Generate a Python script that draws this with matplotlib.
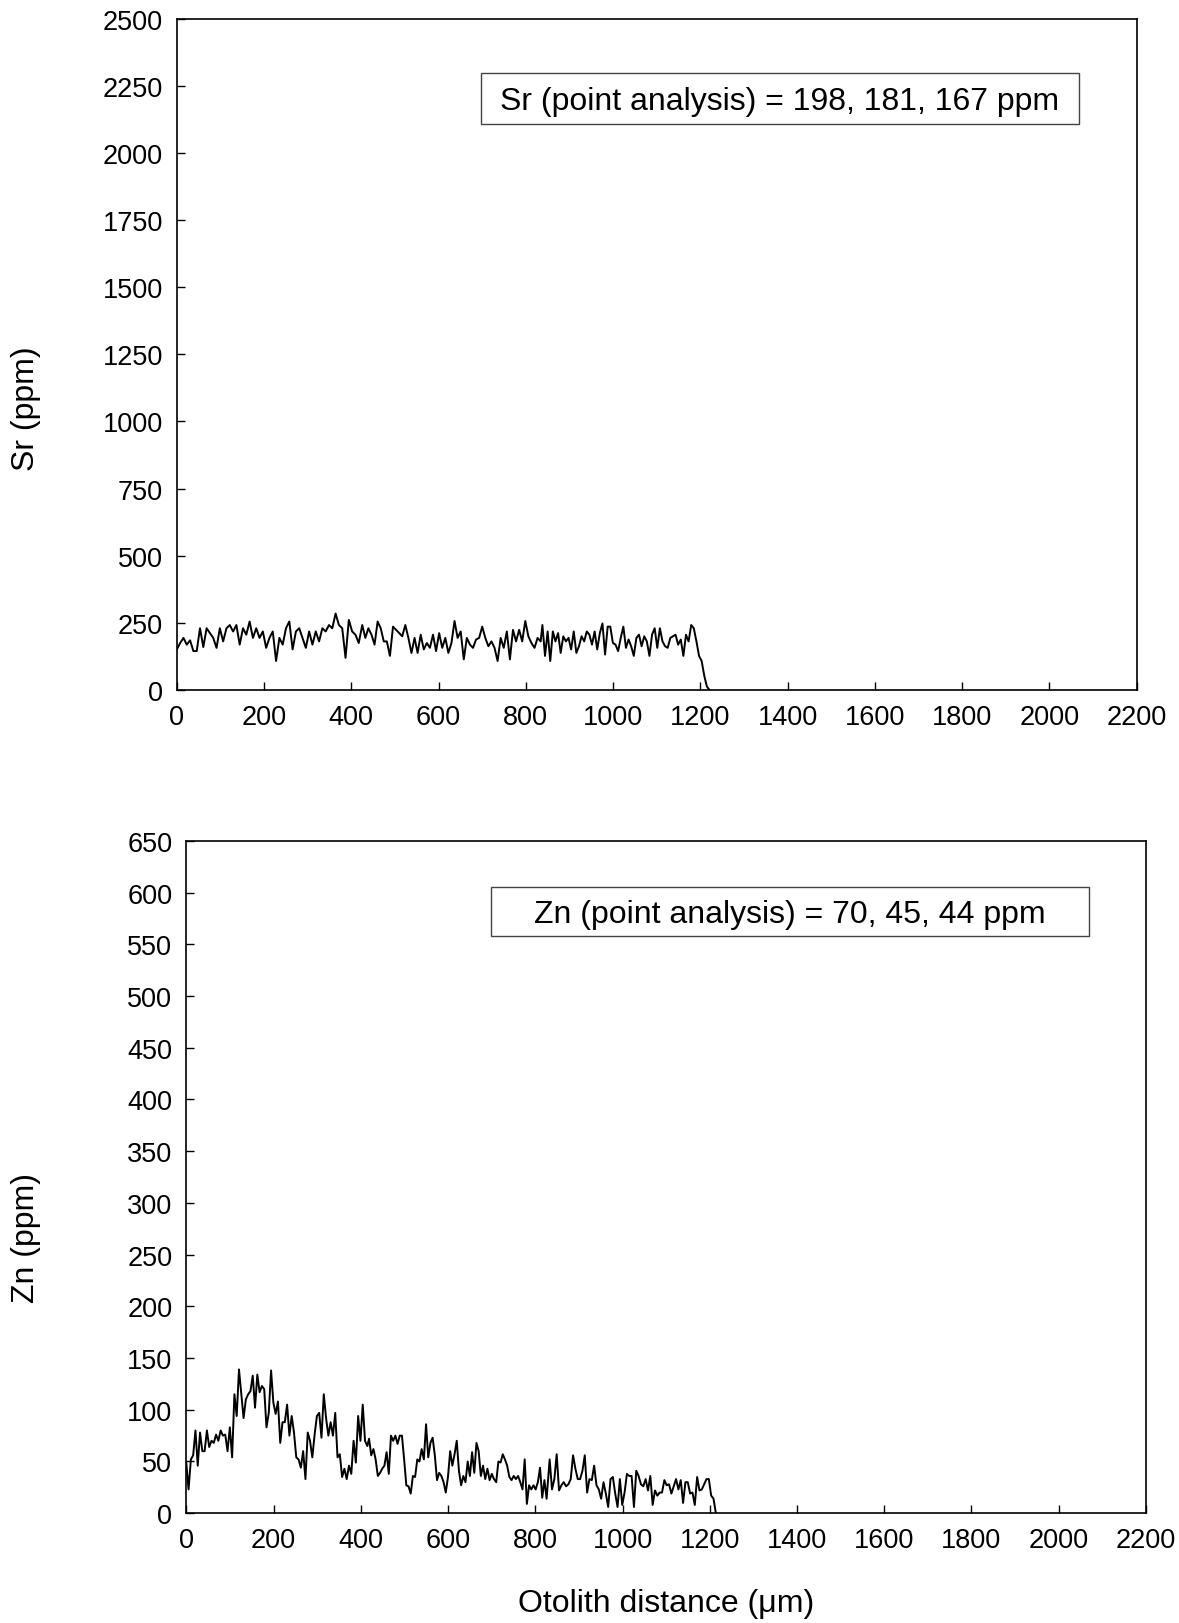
import numpy as np
import matplotlib
matplotlib.use("Agg")
import matplotlib.pyplot as plt
from matplotlib.patches import Rectangle

plt.rcParams['font.family'] = ['Liberation Sans', 'DejaVu Sans']

# Sr laser line scan (ppm) from left to right in three pieces
sr_a = [151, 175, 194, 169, 185, 145, 145, 230, 160, 230, 212, 194, 157, 230, 181, 230,
        242, 218, 242, 169, 230, 206, 255, 194, 230, 194, 218, 157, 194, 218, 108, 194,
        169, 230, 255, 151, 218, 230, 194, 157, 218, 169, 218, 181, 230, 218, 242, 230,
        285, 242, 230, 120, 261, 218, 206, 175]
sr_b = [242, 194, 230, 206, 169, 255, 230, 181, 181, 127, 236, 224, 212, 200, 242, 194,
        138, 194, 138, 206, 151, 175, 157, 206, 145, 212, 157, 194, 138, 175, 257, 194,
        218, 114, 194, 169, 157, 188, 194, 236, 194, 163, 181, 157, 108, 194, 157, 218,
        114, 224, 181, 224, 181, 257, 200, 175, 157, 194, 181]
sr_c = [242, 127, 218, 108, 218, 181, 212, 138, 200, 181, 194, 151, 218, 138, 163, 200,
        181, 218, 206, 169, 218, 151, 212, 248, 132, 236, 236, 175, 169, 145, 194, 236,
        157, 188, 163, 127, 194, 206, 163, 200, 181, 127, 206, 230, 157, 230, 181, 163,
        157, 194, 200, 206, 169, 188, 127, 206, 181, 242, 230, 181, 127, 108, 53, 13, 0]
# distance (um) of first and last point of each piece
sr_span = [(0, 417), (425, 834), (838, 1221)]

# Zn laser line scan (ppm)
zn_a = [49, 23, 52, 56, 80, 46, 78, 60, 60, 80, 64, 70, 68, 76, 70, 80, 75, 76, 60, 83,
        54, 115, 94, 139, 115, 92, 110, 115, 118, 133, 102, 134, 117, 123, 120, 83, 97, 138,
        107, 96, 108, 68, 88, 88, 105, 75, 94, 78, 54, 52, 44, 60, 33, 78, 70, 54, 76, 94,
        97, 73, 115, 92, 75, 88, 75, 97, 54, 57, 35, 43, 33, 46, 38, 70, 49, 94, 70, 105,
        70, 65]
zn_b = [72, 56, 62, 52, 36, 39, 43, 46, 59, 38, 75, 70, 75, 67, 75, 75, 52, 27, 26, 19,
        36, 35, 52, 50, 62, 52, 86, 54, 68, 73, 56, 32, 39, 36, 30, 20, 35, 60, 46, 57,
        70, 41, 27, 36, 30, 50, 36, 59, 39, 68, 60, 36, 46, 33, 43, 32, 38, 33, 30, 50,
        49, 57, 52, 46, 35, 32, 36, 33, 36, 30, 23, 52, 9, 27, 23, 27, 23, 30, 44, 15, 32, 14]
zn_c = [52, 23, 33, 57, 22, 27, 30, 26, 28, 33, 56, 43, 33, 33, 41, 56, 20, 33, 32, 46,
        27, 23, 14, 30, 19, 6, 33, 35, 19, 6, 33, 8, 20, 38, 36, 36, 6, 41, 36, 28,
        26, 33, 22, 36, 8, 22, 17, 20, 20, 32, 27, 28, 19, 26, 33, 23, 32, 10, 30, 30,
        19, 20, 8, 35, 22, 23, 28, 33, 33, 17, 14, 0]
zn_span = [(0, 415), (419, 826), (833, 1214)]

sr_note = "Sr (point analysis) = 198, 181, 167 ppm"
zn_note = "Zn (point analysis) = 70, 45, 44 ppm"


def pieces(parts, spans):
    xs, ys = [], []
    for p, (a, b) in zip(parts, spans):
        xs.append(np.linspace(a, b, len(p)))
        ys.append(np.array(p))
    return np.concatenate(xs), np.concatenate(ys)


def style(ax, ymax, ystep):
    ax.set_xlim(0, 2200)
    ax.set_ylim(0, ymax)
    ax.set_xticks(np.arange(0, 2201, 200))
    ax.set_yticks(np.arange(0, ymax + 1, ystep))
    ax.tick_params(direction='in', length=6, width=1, labelsize=19.5, pad=10,
                   top=False, right=False)
    for s in ax.spines.values():
        s.set_linewidth(1.2)


def note(ax, text, x0, x1, y0, y1):
    ax.add_patch(Rectangle((x0, y0), x1 - x0, y1 - y0, transform=ax.transAxes,
                           fill=False, edgecolor='#444444', lw=1.0))
    ax.text((x0 + x1) / 2, (y0 + y1) / 2 - 0.004, text, transform=ax.transAxes,
            ha='center', va='center', fontsize=23)


def main():
    fig = plt.figure(figsize=(11.79, 16.24), dpi=100)

    sr_x, sr = pieces([sr_a, sr_b, sr_c], sr_span)
    zn_x, zn = pieces([zn_a, zn_b, zn_c], zn_span)

    ax1 = fig.add_axes([0.150, 0.5745, 0.814, 0.4134])
    ax1.plot(sr_x, sr, color='black', lw=1.4)
    style(ax1, 2500, 250)
    note(ax1, sr_note, 0.3165, 0.9396, 0.8425, 0.9197)

    ax2 = fig.add_axes([0.158, 0.0676, 0.814, 0.414])
    ax2.plot(zn_x, zn, color='black', lw=1.4)
    style(ax2, 650, 50)
    note(ax2, zn_note, 0.3175, 0.9406, 0.8578, 0.9316)

    fig.text(26 / 1179, 1 - 409 / 1624, "Sr (ppm)", rotation=90,
             ha='center', va='center', fontsize=23)
    fig.text(26 / 1179, 1 - 1238 / 1624, "Zn (ppm)", rotation=90,
             ha='center', va='center', fontsize=23)
    fig.text(666 / 1179, 1 - 1604 / 1624, "Otolith distance (\u03bcm)",
             ha='center', va='center', fontsize=23)

    fig.savefig("out.png", dpi=100)


if __name__ == '__main__':
    main()
